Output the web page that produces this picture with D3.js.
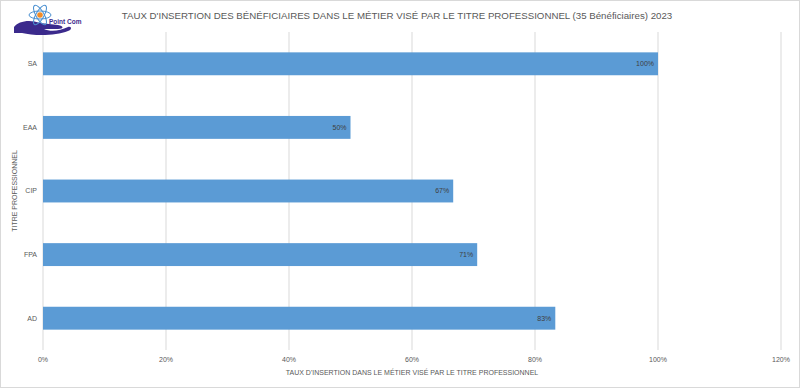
<!DOCTYPE html>
<html>
<head>
<meta charset="utf-8">
<script src="https://cdn.jsdelivr.net/npm/d3@7"></script>
<style>
  body { margin: 0; background: #fff; }
  svg { display: block; font-family: 'Liberation Sans', 'DejaVu Sans', sans-serif; }
</style>
</head>
<body>
<div id="chart"></div>
<script>
const categories = ['SA', 'EAA', 'CIP', 'FPA', 'AD'];
const values = [100, 50, 66.7, 70.6, 83.3];
const xTicks = [0, 20, 40, 60, 80, 100, 120];
const title = "TAUX D'INSERTION DES BÉNÉFICIAIRES DANS LE MÉTIER VISÉ PAR LE TITRE PROFESSIONNEL (35 Bénéficiaires) 2023";
const xTitle = "TAUX D'INSERTION DANS LE MÉTIER VISÉ PAR LE TITRE PROFESSIONNEL";
const yTitle = 'TITRE PROFESSIONNEL';

const width = 800;
const height = 388;
const margin = { top: 32, right: 19, bottom: 38, left: 43 };
const textColor = '#595959';

const svg = d3.select('#chart')
  .append('svg')
  .attr('width', width)
  .attr('height', height);

svg.append('rect')
  .attr('x', 0.5).attr('y', 0.5)
  .attr('width', width - 1).attr('height', height - 1)
  .attr('fill', '#fff')
  .attr('stroke', '#d9d9d9');

const x = d3.scaleLinear()
  .domain([0, 120])
  .range([margin.left, width - margin.right]);

const y = d3.scaleBand()
  .domain(categories)
  .range([margin.top, height - margin.bottom])
  .paddingInner(0.64)
  .paddingOuter(0.32);

// gridlines
svg.append('g')
  .selectAll('line')
  .data(xTicks)
  .join('line')
  .attr('x1', (d) => x(d))
  .attr('x2', (d) => x(d))
  .attr('y1', margin.top)
  .attr('y2', height - margin.bottom)
  .attr('stroke', '#d9d9d9')
  .attr('stroke-width', 1);

// x tick labels
svg.append('g')
  .attr('font-size', 7)
  .attr('fill', textColor)
  .selectAll('text')
  .data(xTicks)
  .join('text')
  .attr('x', (d) => x(d))
  .attr('y', height - margin.bottom + 12)
  .attr('text-anchor', 'middle')
  .text((d) => `${d}%`);

// y tick labels
svg.append('g')
  .attr('font-size', 7)
  .attr('fill', textColor)
  .selectAll('text')
  .data(categories)
  .join('text')
  .attr('x', margin.left - 6)
  .attr('y', (d) => y(d) + y.bandwidth() / 2)
  .attr('dy', '0.35em')
  .attr('text-anchor', 'end')
  .text((d) => d);

// bars
svg.append('g')
  .selectAll('rect')
  .data(values)
  .join('rect')
  .attr('x', x(0))
  .attr('y', (d, i) => y(categories[i]))
  .attr('width', (d) => x(d) - x(0))
  .attr('height', y.bandwidth())
  .attr('fill', '#5b9bd5');

// value labels
svg.append('g')
  .attr('font-size', 7)
  .attr('fill', '#404040')
  .selectAll('text')
  .data(values)
  .join('text')
  .attr('x', (d) => x(d) - 4)
  .attr('y', (d, i) => y(categories[i]) + y.bandwidth() / 2)
  .attr('dy', '0.35em')
  .attr('text-anchor', 'end')
  .text((d) => `${Math.round(d)}%`);

// titles
svg.append('text')
  .attr('x', 397)
  .attr('y', 19)
  .attr('text-anchor', 'middle')
  .attr('font-size', 9.7)
  .attr('fill', textColor)
  .text(title);

svg.append('text')
  .attr('x', 412)
  .attr('y', 375)
  .attr('text-anchor', 'middle')
  .attr('font-size', 7)
  .attr('fill', textColor)
  .text(xTitle);

svg.append('text')
  .attr('transform', `translate(17, ${(margin.top + height - margin.bottom) / 2}) rotate(-90)`)
  .attr('text-anchor', 'middle')
  .attr('font-size', 7)
  .attr('fill', textColor)
  .text(yTitle);

// logo (rough)
const logo = svg.append('g').attr('transform', 'translate(12, 1)');
logo.append('path')
  .attr('d', 'M2,26 C6,20 18,18 28,22 L46,24 C52,25 52,28 46,28 L32,28 C38,31 48,30 56,26 C60,25 60,29 56,30 C44,35 22,35 10,32 L2,32 Z')
  .attr('fill', '#3b2a8c');
[0, 60, 120].forEach((a) => {
  logo.append('ellipse')
    .attr('cx', 28).attr('cy', 14).attr('rx', 11).attr('ry', 4)
    .attr('fill', 'none').attr('stroke', '#4a8fd0').attr('stroke-width', 1)
    .attr('transform', `rotate(${a}, 28, 14)`);
});
logo.append('circle').attr('cx', 28).attr('cy', 14).attr('r', 2.8).attr('fill', '#f28c28');
logo.append('text')
  .attr('x', 37).attr('y', 23)
  .attr('font-size', 6.5).attr('font-weight', 'bold')
  .attr('fill', '#3b2a8c')
  .text('Point Com');
</script>
</body>
</html>
